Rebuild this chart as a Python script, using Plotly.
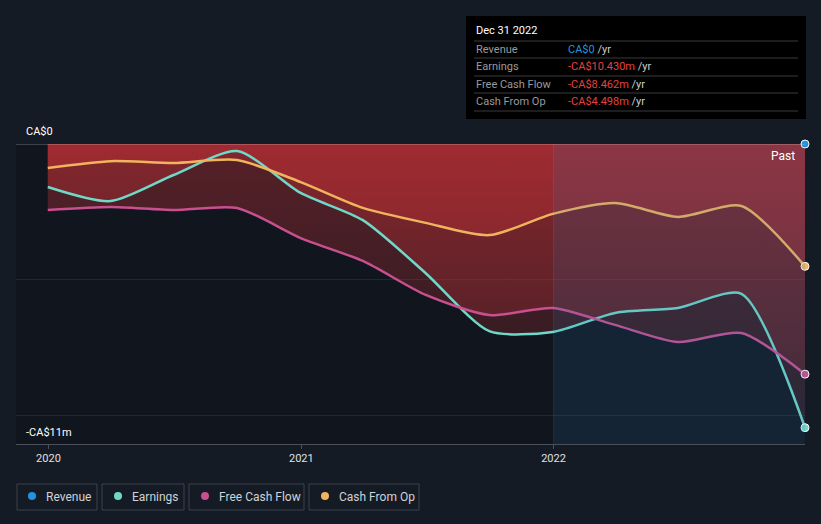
import plotly.graph_objects as go

# ---------------- data ----------------
dates = ["2019-12-31", "2020-03-31", "2020-06-30", "2020-09-30", "2020-12-31",
         "2021-03-31", "2021-06-30", "2021-09-30", "2021-12-31",
         "2022-03-31", "2022-06-30", "2022-09-30", "2022-12-31"]
revenue = [0, 0, 0, 0, 0, 0, 0, 0, 0, 0, 0, 0, 0]
earnings = [-1.58, -2.10, -1.14, -0.26, -1.80, -2.80, -4.75, -6.88, -6.91, -6.21, -6.03, -5.51, -10.43]
free_cash_flow = [-2.43, -2.32, -2.43, -2.35, -3.46, -4.30, -5.55, -6.29, -6.03, -6.65, -7.28, -6.95, -8.462]
cash_from_op = [-0.88, -0.63, -0.70, -0.59, -1.40, -2.35, -2.90, -3.35, -2.57, -2.17, -2.68, -2.28, -4.498]

series_names = ["Revenue", "Earnings", "Free Cash Flow", "Cash From Op"]
series_colors = ["#2394df", "#6fd8c8", "#c84f90", "#f0b45e"]
tooltip_title = "Dec 31 2022"
tooltip_values = ["CA$0", "-CA$10.430m", "-CA$8.462m", "-CA$4.498m"]
year_ticks = ["2020-01-01", "2021-01-01", "2022-01-01"]
year_labels = ["2020", "2021", "2022"]

# ---------------- geometry helpers ----------------
W, H = 821, 524
L, R, T, B = 16, 805, 144, 444
Y_MIN = -11.03


def px(x):
    return (x - L) / (R - L)


def py(y):
    return (B - y) / (B - T)


BG = "#151b25"
fig = go.Figure()

SMOOTH = 0.7

# fills (drawn first, behind lines)
for vals in [cash_from_op, earnings, free_cash_flow]:
    fig.add_trace(go.Scatter(
        x=dates, y=vals, mode="lines", line=dict(width=0, shape="spline", smoothing=SMOOTH),
        fill="tozeroy",
        fillgradient=dict(type="vertical", start=Y_MIN, stop=0,
                          colorscale=[[0, "rgba(205,50,55,0.12)"], [1, "rgba(205,50,55,0.37)"]]),
        hoverinfo="skip", showlegend=False))

# lines
all_series = [revenue, earnings, free_cash_flow, cash_from_op]
for name, vals, col in zip(series_names, all_series, series_colors):
    if name == "Revenue":
        continue
    fig.add_trace(go.Scatter(
        x=dates, y=vals, mode="lines", name=name,
        line=dict(color=col, width=2.5, shape="spline", smoothing=SMOOTH),
        showlegend=False, hoverinfo="skip"))

# end markers
for name, vals, col in zip(series_names, all_series, series_colors):
    fig.add_trace(go.Scatter(
        x=[dates[-1]], y=[vals[-1]], mode="markers",
        marker=dict(color=col, size=8, line=dict(color="#ffffff", width=1)),
        cliponaxis=False, showlegend=False, hoverinfo="skip"))

shapes = []
annotations = []

# past region overlay
shapes.append(dict(type="rect", xref="x", yref="paper", x0="2022-01-01", x1="2022-12-31",
                   y0=0, y1=1, fillcolor="rgba(40,120,180,0.15)", line=dict(width=0), layer="above"))
shapes.append(dict(type="line", xref="x", yref="paper", x0="2022-01-01", x1="2022-01-01",
                   y0=0, y1=1, line=dict(color="rgba(255,255,255,0.07)", width=1), layer="above"))
# top zero line
shapes.append(dict(type="line", xref="paper", yref="y", x0=0, x1=1, y0=0, y1=0,
                   line=dict(color="rgba(255,255,255,0.25)", width=1.5), layer="above"))

annotations.append(dict(xref="paper", yref="paper", x=px(797), y=py(156), text="Past",
                        showarrow=False, xanchor="right", yanchor="middle",
                        font=dict(color="#ffffff", size=12)))
annotations.append(dict(xref="paper", yref="paper", x=px(24), y=py(131), text="CA$0",
                        showarrow=False, xanchor="left", yanchor="middle",
                        font=dict(color="#ffffff", size=11)))
annotations.append(dict(xref="paper", yref="paper", x=px(24), y=py(432), text="-CA$11m",
                        showarrow=False, xanchor="left", yanchor="middle",
                        font=dict(color="#ffffff", size=11)))

# tooltip box
shapes.append(dict(type="rect", xref="paper", yref="paper", x0=px(466), x1=px(806),
                   y0=py(119), y1=py(16), fillcolor="#000000", line=dict(width=0), layer="above"))
annotations.append(dict(xref="paper", yref="paper", x=px(474), y=py(31), text=tooltip_title,
                        showarrow=False, xanchor="left", yanchor="middle",
                        font=dict(color="#ffffff", size=11)))
for yy in [41, 58, 76, 93, 111]:
    shapes.append(dict(type="line", xref="paper", yref="paper", x0=px(474), x1=px(798),
                       y0=py(yy), y1=py(yy), line=dict(color="#3a3a3a", width=1), layer="above"))
row_y = [49, 66, 84, 101]
for name, val, col, yy in zip(series_names, tooltip_values, series_colors, row_y):
    vcol = "#2394df" if not val.startswith("-") else "#e8403d"
    annotations.append(dict(xref="paper", yref="paper", x=px(474), y=py(yy), text=name,
                            showarrow=False, xanchor="left", yanchor="middle",
                            font=dict(color="#9a9a9a", size=11)))
    annotations.append(dict(xref="paper", yref="paper", x=px(566), y=py(yy),
                            text=f'<span style="color:{vcol}">{val}</span> /yr',
                            showarrow=False, xanchor="left", yanchor="middle",
                            font=dict(color="#cfcfcf", size=11)))

# legend (custom boxes)
boxes = [(17, 97), (102, 184), (189, 304), (309, 419)]
dots = [32, 118, 205, 325]
texts = [44, 130, 217, 337]
for name, col, (bx0, bx1), dx, tx in zip(series_names, series_colors, boxes, dots, texts):
    shapes.append(dict(type="rect", xref="paper", yref="paper", x0=px(bx0), x1=px(bx1),
                       y0=py(510), y1=py(484), line=dict(color="#3c424d", width=1),
                       fillcolor="rgba(0,0,0,0)"))
    shapes.append(dict(type="circle", xref="paper", yref="paper", x0=px(dx - 4), x1=px(dx + 4),
                       y0=py(500), y1=py(492), fillcolor=col, line=dict(width=0)))
    annotations.append(dict(xref="paper", yref="paper", x=px(tx), y=py(497), text=name,
                            showarrow=False, xanchor="left", yanchor="middle",
                            font=dict(color="#cfd2d6", size=12)))

fig.update_layout(
    width=W, height=H,
    margin=dict(l=L, r=W - R, t=T, b=H - B, pad=0),
    paper_bgcolor=BG, plot_bgcolor="#11161e",
    font=dict(family="Roboto, sans-serif", color="#d0d0d0"),
    shapes=shapes, annotations=annotations,
    xaxis=dict(type="date", range=["2019-11-15", "2022-12-31"], showgrid=False,
               tickvals=year_ticks, ticktext=year_labels, ticks="outside", ticklen=4,
               tickcolor="#4a505a", showline=True, linecolor="#4a505a", linewidth=1,
               tickfont=dict(size=11, color="#e0e0e0"), zeroline=False, fixedrange=True),
    yaxis=dict(range=[Y_MIN, 0], showticklabels=False, tickvals=[-5, -10],
               showgrid=True, gridcolor="rgba(255,255,255,0.08)", zeroline=False,
               showline=False, fixedrange=True),
    showlegend=False,
)

fig.write_html("out.html", config={"displayModeBar": False},
               post_script="document.body.style.margin='0px';document.body.style.background='" + BG + "';")
